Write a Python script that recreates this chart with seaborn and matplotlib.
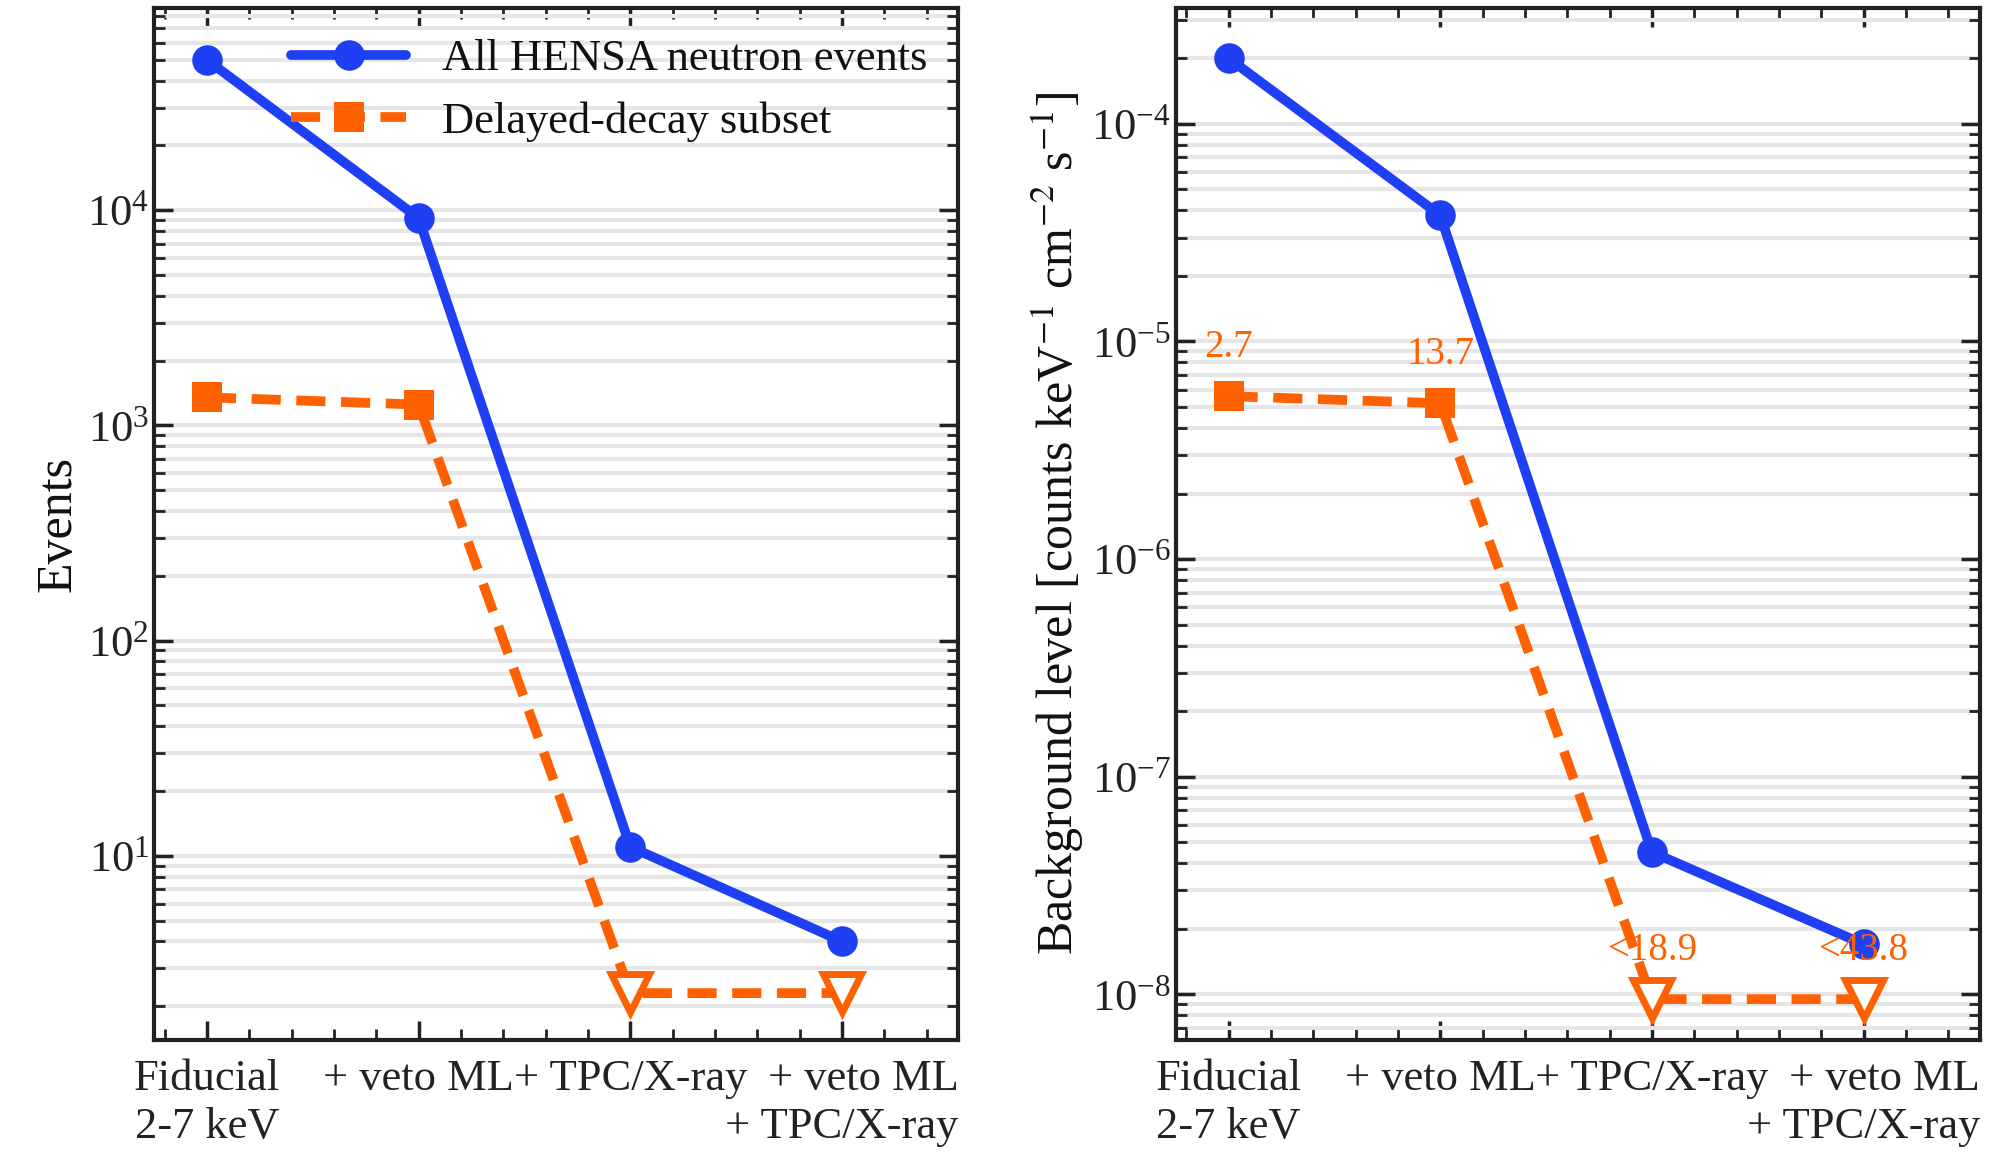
import numpy as np
import matplotlib
matplotlib.use("Agg")
import matplotlib.pyplot as plt
import seaborn as sns
from matplotlib.ticker import LogLocator, MultipleLocator, NullFormatter

categories = ["Fiducial\n2-7 keV", "+ veto ML", "+ TPC/X-ray", "+ veto ML\n+ TPC/X-ray"]
events_all = [5.0e4, 9.2e3, 11, 4.0]
events_delayed = [1350, 1250, 2.3, 2.3]
bkg_all = [2.0e-4, 3.8e-5, 4.5e-8, 1.7e-8]
bkg_delayed = [5.6e-6, 5.2e-6, 9.5e-9, 9.5e-9]
delayed_labels = ["2.7", "13.7", "<18.9", "<43.8"]
is_limit = [False, False, True, True]

sns.set_theme(style="white")
plt.rcParams["font.family"] = ["Liberation Serif", "DejaVu Serif"]
plt.rcParams["mathtext.fontset"] = "stix"
plt.rcParams["text.color"] = "#111111"
plt.rcParams["axes.labelcolor"] = "#111111"
plt.rcParams["xtick.color"] = "#222222"
plt.rcParams["ytick.color"] = "#222222"

blue = "#1f3ff5"
orange = "#ff6000"

fig, axes = plt.subplots(1, 2, figsize=(20, 11.55), dpi=100)
x = np.arange(len(categories))


def draw(ax, all_vals, delayed_vals, ylim, ylabel, annotate):
    sns.lineplot(x=x, y=all_vals, ax=ax, color=blue, lw=7, marker="o",
                 markersize=22, markeredgewidth=0, label="All HENSA neutron events")
    sns.lineplot(x=x, y=delayed_vals, ax=ax, color=orange, lw=7, ls=(0, (3, 1.6)),
                 marker="s", markersize=22, markeredgewidth=0, label="Delayed-decay subset",
                 markevery=[0, 1])
    lim_x = [xi for xi, l in zip(x, is_limit) if l]
    lim_y = [v for v, l in zip(delayed_vals, is_limit) if l]
    ax.plot(lim_x, lim_y, ls="none", marker="v", markersize=28, mfc="white",
            mec=orange, mew=5, zorder=5)
    ax.set_yscale("log")
    ax.set_ylim(*ylim)
    ax.set_xlim(-0.25, 3.55)
    ax.set_xticks(x)
    ax.set_xticklabels(categories, fontsize=32, linespacing=1.25)
    labs = ax.get_xticklabels()
    labs[3].set_multialignment("right")
    ax.xaxis.set_minor_locator(MultipleLocator(0.2))
    ax.yaxis.set_major_locator(LogLocator(base=10, numticks=20))
    ax.yaxis.set_minor_locator(LogLocator(base=10, subs=np.arange(2, 10), numticks=20))
    ax.yaxis.set_minor_formatter(NullFormatter())
    ax.grid(True, axis="y", which="both", color="#e6e6e6", lw=3)
    ax.set_axisbelow(True)
    ax.tick_params(which="both", direction="in", top=True, right=True,
                   left=True, bottom=True, labelsize=32)
    ax.tick_params(which="major", length=14, width=2.5)
    ax.tick_params(which="minor", length=8, width=2)
    ax.tick_params(axis="x", pad=14)
    for s in ax.spines.values():
        s.set_linewidth(3)
        s.set_color("#222222")
    ax.set_ylabel(ylabel, fontsize=36)
    if annotate:
        for xi, v, t in zip(x, delayed_vals, delayed_labels):
            ax.annotate(t, (xi, v), xytext=(0, 22), textcoords="offset points",
                        ha="center", va="bottom", color=orange, fontsize=28)


draw(axes[0], events_all, events_delayed, (1.4, 8.7e4), "Events", False)
draw(axes[1], bkg_all, bkg_delayed, (6.2e-9, 3.4e-4),
     r"Background level [counts keV$^{-1}$ cm$^{-2}$ s$^{-1}$]", True)

axes[0].legend(loc="upper right", fontsize=32, frameon=False, handlelength=2.6,
               borderaxespad=0.3)
axes[1].get_legend().remove()

fig.subplots_adjust(left=0.077, right=0.99, top=0.993, bottom=0.10, wspace=0.27)
fig.savefig("out.png")
